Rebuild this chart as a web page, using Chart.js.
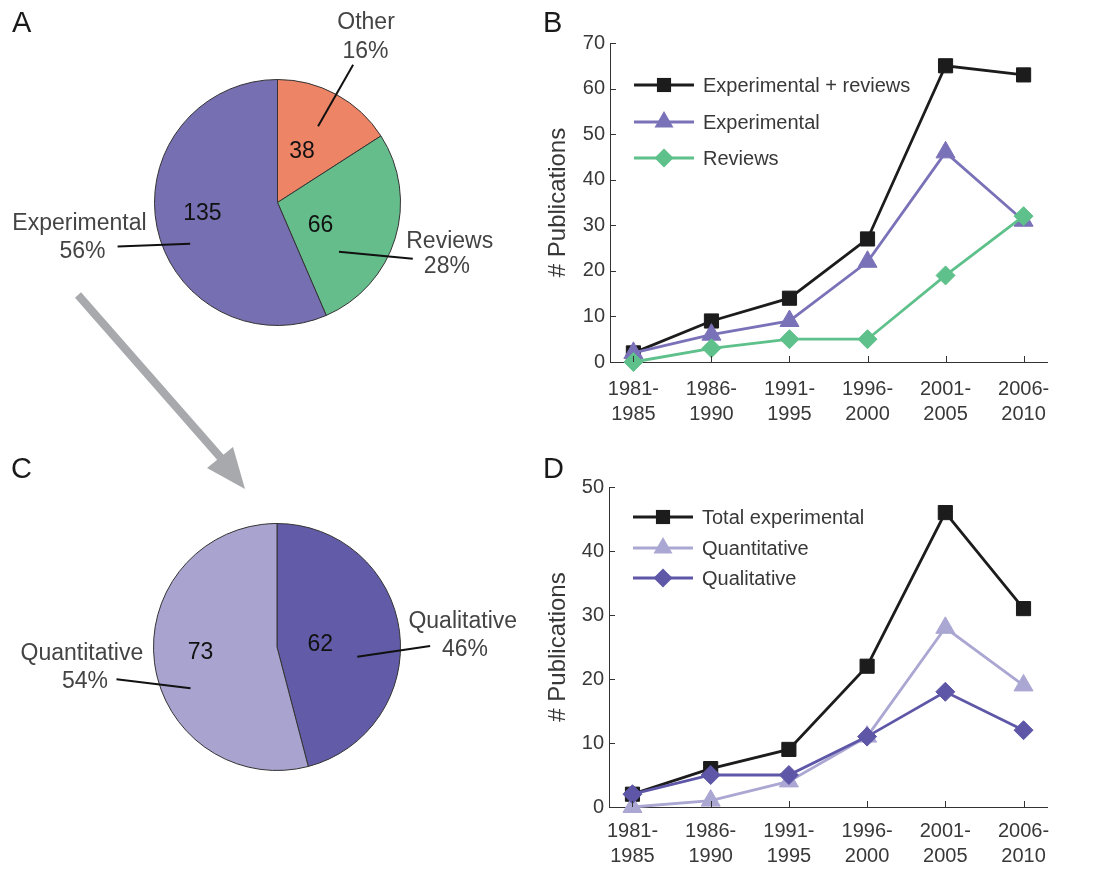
<!DOCTYPE html>
<html>
<head>
<meta charset="utf-8">
<script src="https://cdn.jsdelivr.net/npm/chart.js@4.4.1/dist/chart.umd.min.js"></script>
<style>
body { margin: 0; background: #fff; width: 1095px; height: 869px; position: relative; overflow: hidden;
       font-family: "Liberation Sans", Arial, sans-serif; }
canvas { position: absolute; }
.panel { position: absolute; font-size: 29px; line-height: 1; color: #1a1a1a; }
svg { position: absolute; left: 0; top: 0; pointer-events: none; }
</style>
</head>
<body>
<canvas id="pieA" width="540" height="440" style="left:0;top:0"></canvas>
<canvas id="pieC" width="540" height="429" style="left:0;top:440px"></canvas>
<canvas id="lineB" width="555" height="440" style="left:540px;top:0"></canvas>
<canvas id="lineD" width="555" height="429" style="left:540px;top:440px"></canvas>
<svg width="1095" height="869">
  <line x1="78" y1="295" x2="221" y2="458" stroke="#a7a9ac" stroke-width="8"/>
  <polygon points="207,468 233,447 245,489" fill="#a7a9ac"/>
</svg>
<div class="panel" style="left:12px;top:8px">A</div>
<div class="panel" style="left:543px;top:8px">B</div>
<div class="panel" style="left:11px;top:454px">C</div>
<div class="panel" style="left:543px;top:454px">D</div>
<script>
// ---- data ----
var periods = [['1981-', '1985'], ['1986-', '1990'], ['1991-', '1995'],
               ['1996-', '2000'], ['2001-', '2005'], ['2006-', '2010']];

var pieALabels = ['Other', 'Reviews', 'Experimental'];
var pieAValues = [38, 66, 135];

var pieCLabels = ['Qualitative', 'Quantitative'];
var pieCValues = [62, 73];

var expPlusReviews = [2, 9, 14, 27, 65, 63];
var experimental = [2, 6, 9, 22, 46, 31];
var reviews = [0, 3, 5, 5, 19, 32];

var totalExperimental = [2, 6, 9, 22, 46, 31];
var quantitative = [0, 1, 4, 11, 28, 19];
var qualitative = [2, 5, 5, 11, 18, 12];

var FONT = '"Liberation Sans", Arial, sans-serif';
var TXT = '#383838';

// labels around the pies, in units of the pie radius from its centre
var pieLabels = {
  id: 'pieLabels',
  afterDatasetsDraw: function(chart, args, opts) {
    var ctx = chart.ctx;
    var arcs = chart.getDatasetMeta(0).data;
    var values = chart.data.datasets[0].data;
    var total = values.reduce(function(a, b) { return a + b; }, 0);
    ctx.save();
    ctx.font = '23px ' + FONT;
    ctx.textAlign = 'center';
    ctx.textBaseline = 'middle';
    arcs.forEach(function(arc, i) {
      var p = opts.place[i];
      var r = arc.outerRadius;
      function px(f) { return arc.x + f * r; }
      function py(f) { return arc.y + f * r; }
      ctx.fillStyle = '#111';
      ctx.fillText(String(values[i]), px(p.num[0]), py(p.num[1]));
      ctx.strokeStyle = '#111';
      ctx.lineWidth = 2;
      ctx.beginPath();
      ctx.moveTo(px(p.lead[0]), py(p.lead[1]));
      ctx.lineTo(px(p.lead[2]), py(p.lead[3]));
      ctx.stroke();
      ctx.fillStyle = '#444';
      ctx.fillText(chart.data.labels[i], px(p.name[0]), py(p.name[1]));
      ctx.fillText(Math.round(values[i] / total * 100) + '%', px(p.pct[0]), py(p.pct[1]));
    });
    ctx.restore();
  }
};

function makePie(id, labels, values, colors, padding, place) {
  return new Chart(document.getElementById(id), {
    type: 'pie',
    data: {
      labels: labels,
      datasets: [{ data: values, backgroundColor: colors, borderColor: '#333', borderWidth: 1 }]
    },
    options: {
      responsive: false,
      animation: false,
      layout: { padding: padding },
      plugins: { legend: { display: false }, tooltip: { enabled: false }, pieLabels: { place: place } }
    },
    plugins: [pieLabels]
  });
}

makePie('pieA', pieALabels, pieAValues, ['#ee8466', '#64bd8a', '#7670b2'],
  { left: 154, right: 139, top: 79, bottom: 114 }, [
    { num: [0.20, -0.41], lead: [0.33, -0.62, 0.615, -1.12], name: [0.72, -1.46], pct: [0.715, -1.23] },
    { num: [0.35, 0.19], lead: [0.50, 0.40, 1.10, 0.457], name: [1.40, 0.32], pct: [1.377, 0.52] },
    { num: [-0.61, 0.09], lead: [-1.30, 0.357, -0.71, 0.335], name: [-1.61, 0.168], pct: [-1.585, 0.40] }
  ]);

makePie('pieC', pieCLabels, pieCValues, ['#625ca8', '#a8a4cf'],
  { left: 153, right: 139, top: 83, bottom: 98 }, [
    { num: [0.35, -0.016], lead: [0.65, 0.079, 1.24, -0.008], name: [1.504, -0.205], pct: [1.522, 0.024] },
    { num: [-0.62, 0.046], lead: [-1.30, 0.262, -0.70, 0.334], name: [-1.58, 0.051], pct: [-1.555, 0.283] }
  ]);

// marker shapes like Chart.js' own point styles
function marker(ctx, style, r, x, y) {
  ctx.beginPath();
  if (style === 'rect') {
    var s = Math.SQRT1_2 * r;
    ctx.rect(x - s, y - s, 2 * s, 2 * s);
  } else if (style === 'triangle') {
    ctx.moveTo(x, y - r);
    ctx.lineTo(x + 0.866 * r, y + 0.5 * r);
    ctx.lineTo(x - 0.866 * r, y + 0.5 * r);
    ctx.closePath();
  } else {
    ctx.moveTo(x, y - r); ctx.lineTo(x + r, y); ctx.lineTo(x, y + r); ctx.lineTo(x - r, y);
    ctx.closePath();
  }
  ctx.fill();
}

var insideLegend = {
  id: 'insideLegend',
  afterDraw: function(chart, args, opts) {
    var ctx = chart.ctx, a = chart.chartArea;
    ctx.save();
    chart.data.datasets.forEach(function(ds, i) {
      var y = a.top + opts.rows[i];
      ctx.strokeStyle = ds.borderColor;
      ctx.fillStyle = ds.borderColor;
      ctx.lineWidth = ds.borderWidth;
      ctx.beginPath();
      ctx.moveTo(a.left + 24, y);
      ctx.lineTo(a.left + 84, y);
      ctx.stroke();
      marker(ctx, ds.pointStyle, ds.pointRadius, a.left + 54, y);
      ctx.fillStyle = TXT;
      ctx.font = '20px ' + FONT;
      ctx.textAlign = 'left';
      ctx.textBaseline = 'middle';
      ctx.fillText(ds.label, a.left + 93, y + 1);
    });
    ctx.restore();
  }
};

// small tick marks pointing into the plot
var innerTicks = {
  id: 'innerTicks',
  afterDraw: function(chart) {
    var ctx = chart.ctx, x = chart.scales.x, y = chart.scales.y, a = chart.chartArea;
    ctx.save();
    ctx.strokeStyle = '#333';
    ctx.lineWidth = 1;
    ctx.beginPath();
    y.ticks.forEach(function(t) {
      var p = Math.round(y.getPixelForValue(t.value)) + 0.5;
      ctx.moveTo(a.left, p); ctx.lineTo(a.left + 6, p);
    });
    x.ticks.forEach(function(t) {
      var p = Math.round(x.getPixelForValue(t.value)) + 0.5;
      ctx.moveTo(p, a.bottom); ctx.lineTo(p, a.bottom - 6);
    });
    ctx.stroke();
    ctx.restore();
  }
};

function series(label, values, color, style, radius, order) {
  return {
    label: label,
    data: values.map(function(v, i) { return { x: i, y: v }; }),
    borderColor: color,
    backgroundColor: color,
    borderWidth: 2.8,
    pointStyle: style,
    pointRadius: radius,
    pointBorderWidth: 1,
    pointBackgroundColor: color,
    pointBorderColor: color,
    order: order,
    clip: false
  };
}

function makeLine(id, datasets, yMax, yWidth, xHeight, padTop, xPad, rows) {
  return new Chart(document.getElementById(id), {
    type: 'line',
    data: { datasets: datasets },
    options: {
      responsive: false,
      animation: false,
      layout: { padding: { left: 0, right: 48, top: padTop, bottom: 0 } },
      plugins: { legend: { display: false }, tooltip: { enabled: false }, insideLegend: { rows: rows } },
      scales: {
        x: {
          type: 'linear', min: -0.3, max: 5.3,
          afterBuildTicks: function(s) { s.ticks = periods.map(function(p, i) { return { value: i }; }); },
          afterFit: function(s) { s.height = xHeight; },
          grid: { display: false, drawTicks: false },
          border: { display: true, color: '#333', width: 1 },
          ticks: {
            color: TXT, padding: xPad, maxRotation: 0, autoSkip: false,
            font: { family: FONT, size: 20, lineHeight: 1.25 },
            callback: function(v) { return periods[v]; }
          }
        },
        y: {
          min: 0, max: yMax,
          afterFit: function(s) { s.width = yWidth; },
          grid: { display: false, drawTicks: false },
          border: { display: true, color: '#333', width: 1 },
          ticks: { stepSize: 10, color: TXT, padding: 5, font: { family: FONT, size: 20 } },
          title: { display: true, text: '# Publications', color: TXT,
                   font: { family: FONT, size: 24 }, padding: { top: 4, bottom: 0 } }
        }
      }
    },
    plugins: [innerTicks, insideLegend]
  });
}

makeLine('lineB', [
  series('Experimental + reviews', expPlusReviews, '#1c1c1c', 'rect', 10, 3),
  series('Experimental', experimental, '#7a72b8', 'triangle', 11, 2),
  series('Reviews', reviews, '#5ec08a', 'rectRot', 9.5, 1)
], 70, 70, 78, 43, 15, [42, 79, 115]);

makeLine('lineD', [
  series('Total experimental', totalExperimental, '#1c1c1c', 'rect', 10, 3),
  series('Quantitative', quantitative, '#aba7d3', 'triangle', 11, 2),
  series('Qualitative', qualitative, '#5e57a7', 'rectRot', 9.5, 1)
], 50, 69, 62, 47, 12, [30, 61, 91]);
</script>
</body>
</html>
